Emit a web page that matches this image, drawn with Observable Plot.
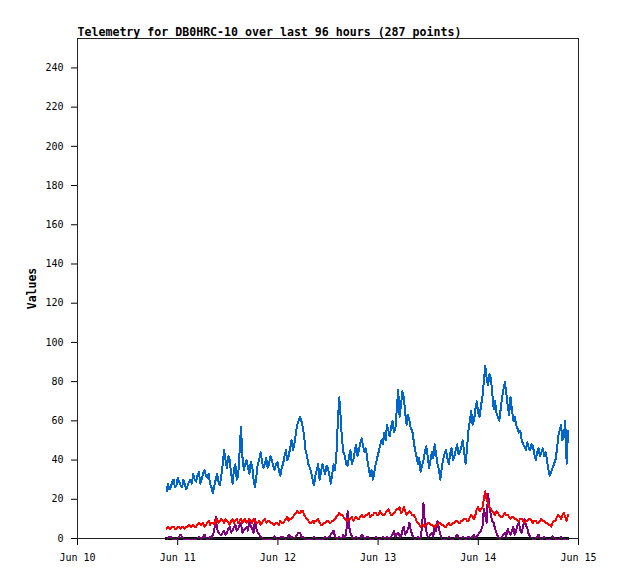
<!DOCTYPE html>
<html>
<head>
<meta charset="utf-8">
<script src="https://cdn.jsdelivr.net/npm/d3@7"></script>
<script src="https://cdn.jsdelivr.net/npm/@observablehq/plot@0.6"></script>
<style>
  html, body { margin: 0; padding: 0; background: #fff; }
</style>
</head>
<body>
<div id="chart"></div>
<script>
const titleText = "Telemetry for DB0HRC-10 over last 96 hours (287 points)";
const yLabel = "Values";
const startTime = Date.UTC(2024, 5, 10, 21, 20);
const endTime = Date.UTC(2024, 5, 14, 21, 30);
const xTickDates = ["2024-06-10","2024-06-11","2024-06-12","2024-06-13","2024-06-14","2024-06-15"];
const yTicks = [0,20,40,60,80,100,120,140,160,180,200,220,240];

const blue = [
  24,28,25,26,29,30,26,27,31,29,27,26,30,28,25,27,29,30,28,
  33,30,29,32,34,28,30,33,35,32,31,33,28,26,23,27,30,33,29,27,
  32,38,45,40,36,42,40,33,28,35,38,30,32,44,57,42,35,38,40,36,
  33,39,37,30,26,32,38,40,44,39,36,38,41,36,38,42,40,37,35,38,
  39,35,32,36,38,42,45,40,42,46,50,45,48,53,58,60,62,60,57,52,
  45,42,38,36,34,30,27,32,35,38,30,34,38,35,33,37,36,32,28,33,
  38,35,43,60,72,62,50,44,42,38,37,42,45,38,40,44,48,42,45,49,
  51,47,44,46,40,36,32,35,30,34,38,41,44,47,50,48,54,50,58,55,
  52,57,60,54,56,66,76,62,68,75,72,64,58,63,60,56,55,50,45,42,
  38,41,34,37,40,44,47,42,36,40,44,41,48,43,38,35,30,36,40,43,
  45,41,38,43,46,40,42,45,48,43,44,47,50,44,38,46,55,60,65,58,
  60,66,70,64,62,68,72,80,88,82,78,84,82,74,66,70,64,62,60,66,
  72,76,80,74,68,63,72,66,60,62,58,56,54,55,50,48,47,45,49,46,
  45,48,47,43,40,44,46,42,44,46,42,44,40,35,32,34,36,38,40,45,
  52,55,58,50,52,60,38,55];
const red = [
  5,6,5,5,6,6,5,5,6,6,5,6,6,5,6,6,7,6,6,
  7,6,6,7,8,7,7,8,6,7,8,9,7,8,8,7,9,10,8,9,
  10,9,8,10,9,8,7,9,10,8,9,10,8,9,10,8,9,10,8,9,
  10,9,8,10,9,8,8,9,7,8,9,10,8,9,9,8,8,7,7,8,
  8,7,9,8,8,9,10,11,9,10,10,11,12,13,14,13,13,14,14,12,
  11,10,9,8,8,9,8,9,9,10,8,7,7,8,8,9,9,8,8,9,
  9,10,11,12,13,12,12,11,10,9,9,10,10,11,9,10,11,10,10,11,
  12,11,11,12,12,13,11,12,12,13,13,12,12,14,13,12,12,13,14,15,
  13,12,12,13,14,15,15,16,13,14,16,14,12,13,14,13,12,12,11,9,
  8,7,6,7,7,6,7,8,8,7,7,6,6,7,7,8,8,7,7,6,
  6,7,8,7,7,8,8,9,9,8,8,9,9,10,10,9,9,11,12,11,
  10,12,15,16,14,15,16,20,24,20,18,16,15,14,13,12,14,13,12,11,
  11,12,13,12,12,11,10,11,11,10,10,9,9,10,10,9,8,9,9,10,
  10,9,8,9,9,8,8,9,10,9,9,8,8,7,7,6,8,9,9,11,
  12,11,10,12,13,11,9,12];
const purple = [
  0,0,1,1,0,0,0,0,0,1,2,1,0,0,0,0,0,0,0,
  0,0,0,0,1,0,0,1,2,0,0,0,1,0,2,4,11,5,3,2,
  2,3,4,2,3,5,6,3,4,6,7,4,5,7,8,3,4,5,6,4,
  9,6,5,3,10,5,3,2,1,0,0,0,0,0,0,0,0,0,1,0,
  0,0,0,1,1,0,0,0,2,1,1,0,0,1,2,3,3,1,1,0,
  0,0,0,0,0,0,1,0,0,0,0,0,0,0,1,0,0,1,2,3,
  4,1,0,0,1,0,0,2,0,3,14,6,3,1,0,0,1,0,0,0,
  2,1,0,0,1,0,0,0,0,0,1,0,0,0,0,1,0,0,1,0,
  0,1,2,4,1,2,3,1,1,4,6,2,3,5,8,4,2,0,0,0,
  1,0,0,6,18,8,4,1,1,2,3,1,6,4,9,5,2,0,0,0,
  0,0,1,0,0,0,0,1,2,0,0,0,1,0,0,0,1,0,0,1,
  2,0,1,2,3,4,6,15,12,8,23,16,12,9,8,5,3,1,0,0,
  1,2,3,1,5,3,2,4,6,2,4,7,8,4,3,6,10,7,5,2,
  1,0,0,0,0,1,2,0,0,0,1,0,0,0,0,0,1,0,0,0,
  0,0,1,0,0,0,0,0];
const black = blue.map(() => 0);

const seriesList = [
  {name: "black", color: "#000000", values: black},
  {name: "purple", color: "#800080", values: purple},
  {name: "red", color: "#ff0000", values: red},
  {name: "blue", color: "#0066cc", values: blue}
];

function rows(values) {
  const step = (endTime - startTime) / (values.length - 1);
  return values.map((v, i) => ({t: new Date(startTime + i * step), v}));
}

const fmt = d3.utcFormat("%b %d");

const chart = Plot.plot({
  width: 618,
  height: 579,
  marginLeft: 77,
  marginRight: 40,
  marginTop: 38,
  marginBottom: 41,
  style: {fontFamily: "'DejaVu Sans Mono', monospace", fontSize: "10px", background: "#fff", color: "#000"},
  x: {type: "utc", domain: [new Date("2024-06-10"), new Date("2024-06-15")]},
  y: {domain: [0, 255]},
  marks: [
    Plot.axisX({ticks: xTickDates.map(d => new Date(d)), tickFormat: fmt, tickSize: 7, tickPadding: 8, label: null, fontSize: 10}),
    Plot.axisY({ticks: yTicks, tickSize: 6, tickPadding: 8, label: null, fontSize: 10}),
    ...seriesList.map(s => Plot.line(rows(s.values), {x: "t", y: "v", stroke: s.color, strokeWidth: s.name === "black" ? 3 : 2, shapeRendering: "crispEdges"})),
    Plot.frame({stroke: "#222", strokeWidth: 1}),
    Plot.text([titleText], {frameAnchor: "top-left", dy: -3, textAnchor: "start", lineAnchor: "bottom", fontWeight: "bold", fontSize: 11.6, fill: "#000"}),
    Plot.text([yLabel], {frameAnchor: "left", dx: -45, rotate: -90, textAnchor: "middle", fontWeight: "bold", fontSize: 11.5, fill: "#000"})
  ]
});
document.getElementById("chart").appendChild(chart);
</script>
</body>
</html>
